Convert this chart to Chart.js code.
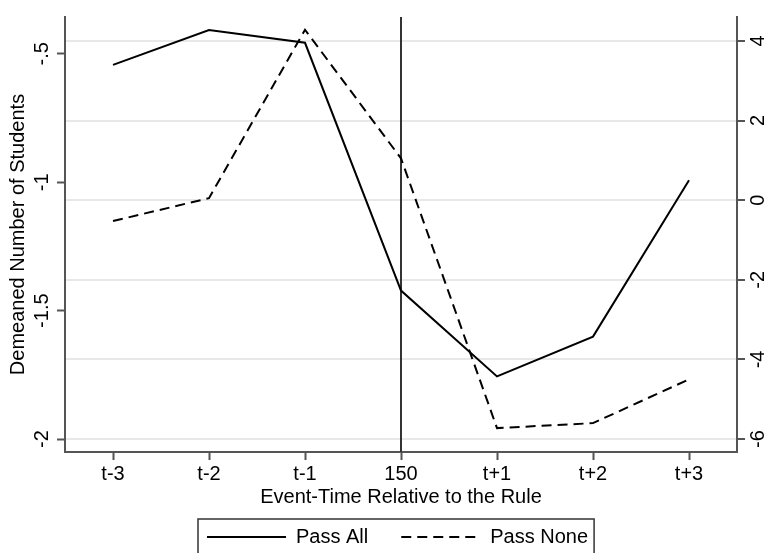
<!DOCTYPE html>
<html>
<head>
<meta charset="utf-8">
<script src="https://cdn.jsdelivr.net/npm/chart.js@4"></script>
<style>
  html, body { margin: 0; padding: 0; background: #fff; }
</style>
</head>
<body>
<canvas id="chart" width="764" height="553"></canvas>
<script>
// event-time categories and the two series (left axis / right axis)
const periods = ['t-3', 't-2', 't-1', '150', 't+1', 't+2', 't+3'];
const passAll = [-0.543, -0.407, -0.457, -1.422, -1.756, -1.601, -0.992];
const passNone = [-0.525, 0.05, 4.28, 1.05, -5.725, -5.6, -4.5];

const leftTicks = [-2, -1.5, -1, -0.5];
const leftTickLabels = ['-2', '-1.5', '-1', '-.5'];
const rightTicks = [-6, -4, -2, 0, 2, 4];
const eventPeriod = '150';

const FONT = "'Liberation Sans', Arial, Helvetica, sans-serif";
const AXIS = '#555';

// vertical marker at the rule
const eventLine = {
  id: 'eventLine',
  beforeDatasetsDraw(chart) {
    const { ctx, chartArea, scales } = chart;
    const x = scales.x.getPixelForValue(periods.indexOf(eventPeriod));
    ctx.save();
    ctx.strokeStyle = '#333';
    ctx.lineWidth = 2;
    ctx.beginPath();
    ctx.moveTo(x, chartArea.top);
    ctx.lineTo(x, chartArea.bottom);
    ctx.stroke();
    ctx.restore();
  }
};

// boxed legend under the axis title
const boxLegend = {
  id: 'boxLegend',
  afterDraw(chart) {
    const ctx = chart.ctx;
    const x0 = 198, y0 = 519, y = 537;
    ctx.save();
    ctx.font = '20px ' + FONT;
    ctx.textBaseline = 'middle';
    ctx.fillStyle = '#000';
    let x = x0 + 9;
    chart.data.datasets.forEach((ds, i) => {
      ctx.strokeStyle = '#000';
      ctx.lineWidth = 2;
      ctx.setLineDash(ds.borderDash || []);
      ctx.beginPath();
      ctx.moveTo(x, y);
      ctx.lineTo(x + 79, y);
      ctx.stroke();
      ctx.setLineDash([]);
      x += 79 + 10;
      ctx.fillText(ds.label, x, y);
      x += ctx.measureText(ds.label).width;
      if (i < chart.data.datasets.length - 1) x += 33;
    });
    ctx.strokeStyle = '#333';
    ctx.lineWidth = 1.5;
    ctx.strokeRect(x0, y0, x + 6 - x0, 60);
    ctx.restore();
  }
};

new Chart(document.getElementById('chart'), {
  type: 'line',
  data: {
    labels: periods,
    datasets: [
      {
        label: 'Pass All',
        data: passAll,
        yAxisID: 'y',
        borderColor: '#000',
        borderWidth: 2,
        pointRadius: 0,
        tension: 0
      },
      {
        label: 'Pass None',
        data: passNone,
        yAxisID: 'y2',
        borderColor: '#000',
        borderWidth: 2,
        borderDash: [10, 6],
        pointRadius: 0,
        tension: 0
      }
    ]
  },
  options: {
    responsive: false,
    animation: false,
    devicePixelRatio: 1,
    layout: { padding: { top: 15, bottom: 40, left: 0, right: 0 } },
    plugins: {
      legend: { display: false },
      tooltip: { enabled: false }
    },
    scales: {
      x: {
        offset: true,
        afterFit: s => { s.height = 61; },
        grid: { drawOnChartArea: false, tickLength: 8, tickColor: AXIS, tickWidth: 2 },
        border: { color: AXIS, width: 2 },
        ticks: { color: '#000', font: { family: FONT, size: 20 }, padding: 2, maxRotation: 0 },
        title: {
          display: true,
          text: 'Event-Time Relative to the Rule',
          color: '#000',
          font: { family: FONT, size: 20 },
          padding: { top: 0, bottom: 4 }
        }
      },
      y: {
        position: 'left',
        min: -2.0504,
        max: -0.3566,
        afterBuildTicks: s => { s.ticks = leftTicks.map(v => ({ value: v })); },
        afterFit: s => { s.width = 65; },
        grid: { drawOnChartArea: false, tickLength: 8, tickColor: AXIS, tickWidth: 2 },
        border: { color: AXIS, width: 2 },
        ticks: {
          color: '#000',
          font: { family: FONT, size: 20 },
          minRotation: 90,
          maxRotation: 90,
          crossAlign: 'center',
          padding: -3,
          callback: v => leftTickLabels[leftTicks.indexOf(v)]
        },
        title: {
          display: true,
          text: 'Demeaned Number of Students',
          color: '#000',
          font: { family: FONT, size: 20 },
          padding: { top: 6, bottom: 0 }
        }
      },
      y2: {
        position: 'right',
        min: -6.325,
        max: 4.6,
        afterBuildTicks: s => { s.ticks = rightTicks.map(v => ({ value: v })); },
        afterFit: s => { s.width = 27; },
        grid: { color: '#e8e8e8', lineWidth: 2, tickLength: 8, tickColor: AXIS, tickWidth: 2 },
        border: { color: AXIS, width: 2 },
        ticks: {
          color: '#000',
          font: { family: FONT, size: 20 },
          minRotation: 90,
          maxRotation: 90,
          crossAlign: 'center',
          padding: 5
        }
      }
    }
  },
  plugins: [eventLine, boxLegend]
});
</script>
</body>
</html>
